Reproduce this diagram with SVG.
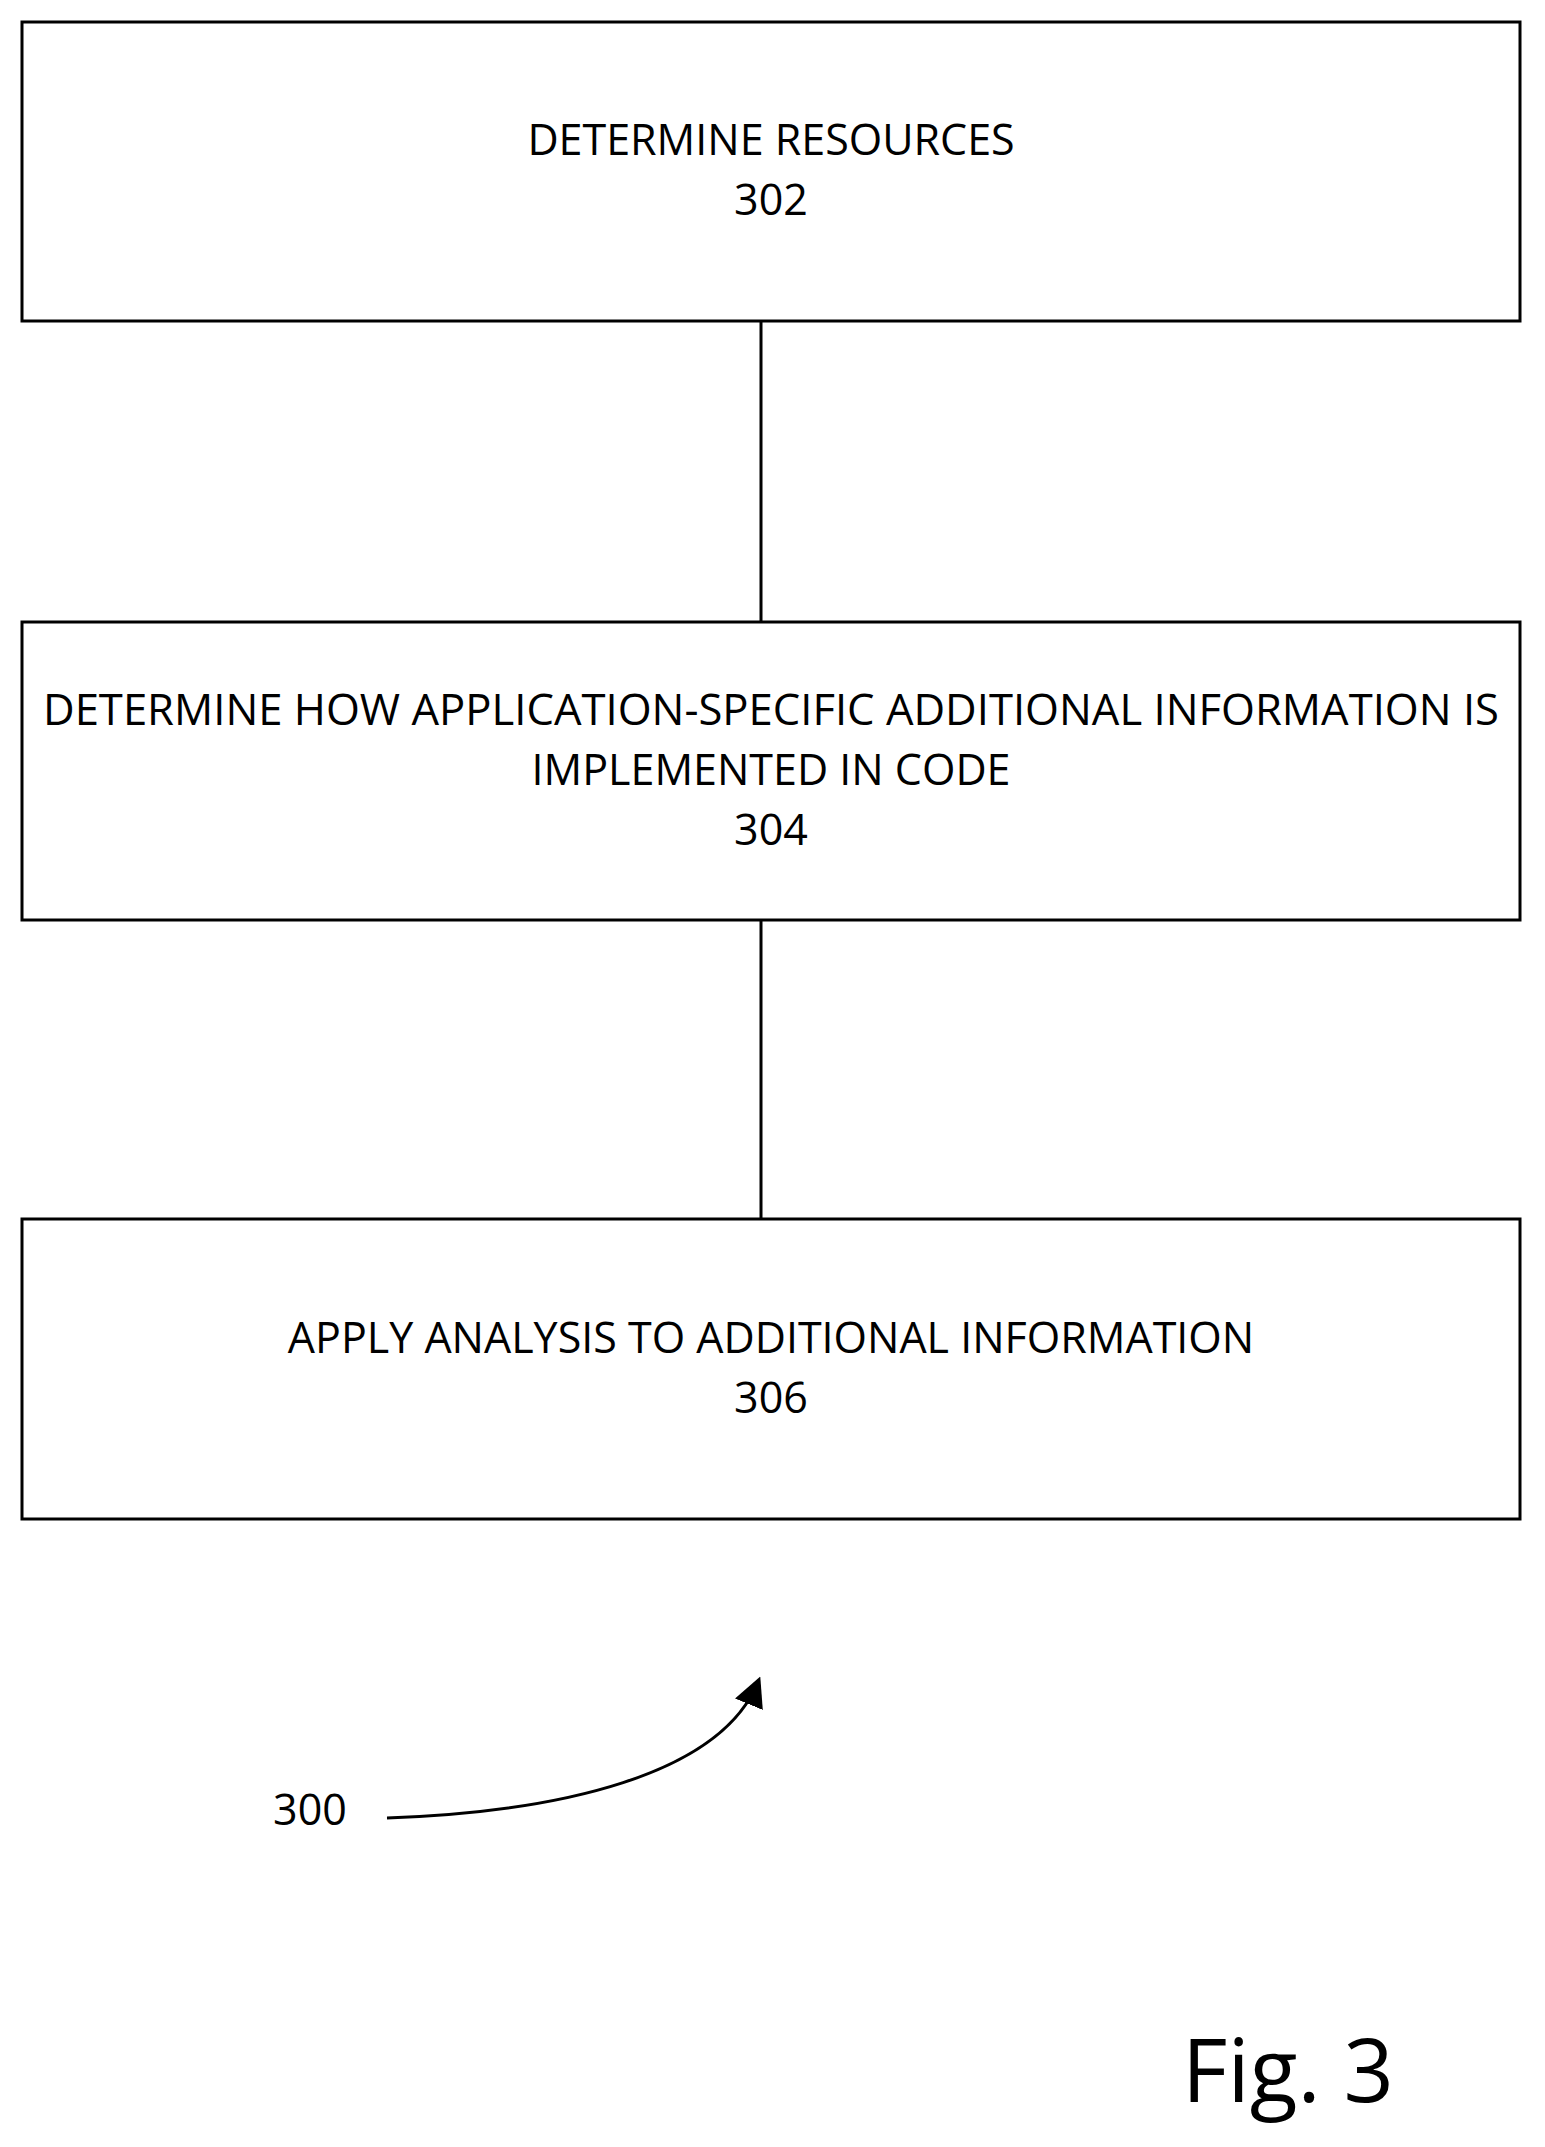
<svg xmlns="http://www.w3.org/2000/svg" width="1545" height="2147" viewBox="0 0 1545 2147">
<style>
.box{fill:#fff;stroke:#000;stroke-width:3}
.t{font-family:"Open Sans","Liberation Sans",sans-serif;font-size:43px;text-anchor:middle;fill:#000}
.c{stroke:#000;stroke-width:3;fill:none}
</style>
<defs><marker id="ah" markerWidth="10" markerHeight="10" refX="8" refY="5" orient="auto" markerUnits="strokeWidth"><path d="M0,0 L10,5 L0,10 z" fill="#000"/></marker></defs>
<rect width="1545" height="2147" fill="#fff"/>
<g id="connectors">
<line class="c" x1="761" y1="321" x2="761" y2="622"/>
<line class="c" x1="761" y1="920" x2="761" y2="1219"/>
<path class="c" d="M387,1818 C560,1812 720,1775 758,1682" marker-end="url(#ah)"/>
</g>
<g id="n302"><rect class="box" x="22" y="22" width="1498" height="299"/>
<text class="t" x="771" y="155">DETERMINE RESOURCES</text><text class="t" x="771" y="215">302</text></g>
<g id="n304"><rect class="box" x="22" y="622" width="1498" height="298"/>
<text class="t" x="771" y="725" textLength="1456" lengthAdjust="spacingAndGlyphs">DETERMINE HOW APPLICATION-SPECIFIC ADDITIONAL INFORMATION IS</text>
<text class="t" x="771" y="785">IMPLEMENTED IN CODE</text><text class="t" x="771" y="845">304</text></g>
<g id="n306"><rect class="box" x="22" y="1219" width="1498" height="300"/>
<text class="t" x="771" y="1353">APPLY ANALYSIS TO ADDITIONAL INFORMATION</text><text class="t" x="771" y="1413">306</text></g>
<g id="label300"><text class="t" x="310" y="1825">300</text></g>
<g id="fig"><text x="1182" y="2102" style="font-family:'Open Sans','Liberation Sans',sans-serif;font-size:88px">Fig. 3</text></g>
</svg>
